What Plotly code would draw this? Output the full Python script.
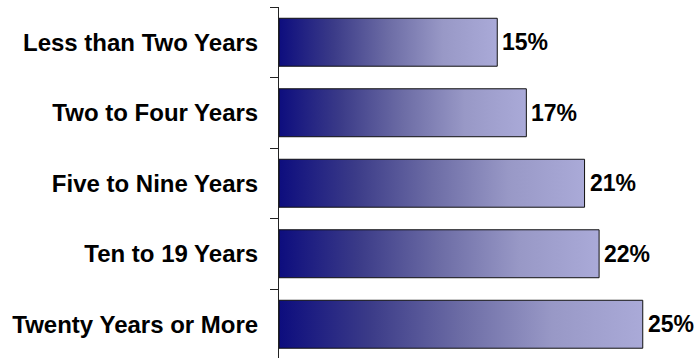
import plotly.graph_objects as go

# Share of respondents by length of time
categories = [
    "Less than Two Years",
    "Two to Four Years",
    "Five to Nine Years",
    "Ten to 19 Years",
    "Twenty Years or More",
]
values = [15, 17, 21, 22, 25]
value_labels = ["15%", "17%", "21%", "22%", "25%"]

FONT = "Liberation Sans, Arial, sans-serif"
BAR_HALF = 0.34  # half bar thickness, in category units

# dark navy on the left fading to pale lavender on the right
gradient = [
    [0.0, "#0d0d7e"],
    [0.25, "#3b3b88"],
    [0.5, "#6c6ca5"],
    [0.75, "#9898c6"],
    [1.0, "#aaaad8"],
]

fig = go.Figure()

for i, (cat, v) in enumerate(zip(categories, values)):
    fig.add_trace(
        go.Scatter(
            x=[0, v, v, 0, 0],
            y=[i - BAR_HALF, i - BAR_HALF, i + BAR_HALF, i + BAR_HALF, i - BAR_HALF],
            mode="lines",
            fill="toself",
            fillgradient=dict(type="horizontal", colorscale=gradient),
            line=dict(color="#111111", width=1),
            name=cat,
            hoverinfo="skip",
            showlegend=False,
        )
    )

for i, (v, lab) in enumerate(zip(values, value_labels)):
    fig.add_annotation(
        x=v,
        y=i,
        text=lab,
        showarrow=False,
        xanchor="left",
        yanchor="middle",
        xshift=3,
        font=dict(family=FONT, size=23, color="#000000", weight="bold"),
    )

n = len(categories)
fig.update_yaxes(
    range=[-0.5 + 351 / 70.5, -0.5],
    tickmode="array",
    tickvals=list(range(n)),
    ticktext=categories,
    ticks="",
    ticklabelstandoff=15,
    tickfont=dict(family=FONT, size=24, color="#000000", weight="bold"),
    showline=True,
    linecolor="#222222",
    linewidth=1,
    showgrid=False,
    zeroline=False,
    minor=dict(
        tickmode="array",
        tickvals=[k - 0.5 for k in range(n + 1)],
        ticks="outside",
        ticklen=8,
        tickcolor="#222222",
        tickwidth=1,
        showgrid=False,
    ),
)
fig.update_xaxes(
    range=[0, 416 / 14.55],
    visible=False,
    showgrid=False,
    zeroline=False,
)
fig.update_layout(
    width=695,
    height=358,
    margin=dict(l=279, r=0, t=7, b=0),
    paper_bgcolor="#ffffff",
    plot_bgcolor="#ffffff",
    showlegend=False,
)

fig.write_html("out.html")
